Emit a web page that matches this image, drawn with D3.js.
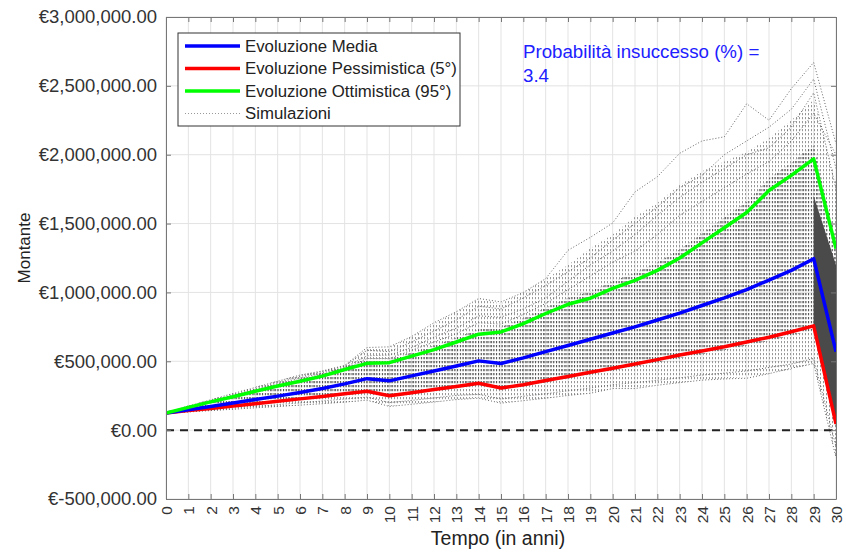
<!DOCTYPE html>
<html>
<head>
<meta charset="utf-8">
<script src="https://cdn.jsdelivr.net/npm/d3@7"></script>
<style>
  body { margin: 0; background: #fff; }
  text { font-family: "Liberation Sans", Arial, sans-serif; }
</style>
</head>
<body>
<div id="chart"></div>
<script>
// anni 0..30
let years = d3.range(0, 31);

// curve principali (euro)
let mediaVals = [125000, 148000, 172000, 197000, 222000, 247000, 274000, 303000, 336000, 374000, 358000,
  394000, 430000, 466000, 503000, 484000, 525000, 570000, 615000, 660000, 705000,
  750000, 800000, 850000, 905000, 960000, 1020000, 1090000, 1160000, 1245000, 570000];
let pessVals = [125000, 142000, 158000, 175000, 192000, 210000, 227000, 245000, 264000, 283000, 250000,
  272000, 295000, 317000, 340000, 306000, 330000, 360000, 390000, 420000, 450000,
  480000, 512000, 545000, 575000, 605000, 640000, 675000, 715000, 757000, 45000];
let ottVals = [125000, 165000, 205000, 242000, 282000, 320000, 355000, 392000, 440000, 485000, 490000,
  537000, 585000, 640000, 697000, 713000, 774000, 847000, 914000, 958000, 1030000,
  1088000, 1160000, 1250000, 1360000, 1470000, 1580000, 1740000, 1850000, 1970000, 1318000];

// fascia delle simulazioni (bordo inferiore / superiore della nuvola di linee)
let simBandLo = [125000, 130000, 140000, 150000, 160000, 170000, 180000, 190000, 200000, 215000, 175000,
  190000, 205000, 220000, 235000, 200000, 215000, 230000, 250000, 270000, 300000,
  310000, 330000, 345000, 365000, 375000, 385000, 410000, 440000, 480000, -200000];
let simBandHi = [125000, 180000, 225000, 270000, 315000, 360000, 400000, 430000, 470000, 590000, 600000,
  680000, 770000, 860000, 950000, 920000, 1000000, 1100000, 1200000, 1320000, 1420000,
  1550000, 1650000, 1780000, 1880000, 1950000, 2020000, 2120000, 2250000, 2400000, 1800000];
// zona scura tra anno 29 e 30
let darkYears = [29, 30];
let darkLo = [750000, 30000];
let darkHi = [1700000, 1200000];

// alcune simulazioni isolate (fuori dalla zona fitta)
let simPaths = [
  [125000, 175000, 220000, 265000, 310000, 355000, 400000, 430000, 470000, 600000, 605000, 680000, 780000, 860000, 956000, 931000, 1000000, 1100000, 1306000, 1400000, 1504000, 1730000, 1840000, 2010000, 2100000, 2130000, 2370000, 2250000, 2480000, 2670000, 2080000],
  [125000, 170000, 210000, 255000, 300000, 345000, 390000, 425000, 465000, 580000, 570000, 640000, 720000, 800000, 900000, 880000, 960000, 1050000, 1150000, 1250000, 1380000, 1500000, 1620000, 1760000, 1850000, 2000000, 2100000, 2200000, 2330000, 2550000, 1900000],
  [125000, 168000, 208000, 250000, 292000, 335000, 378000, 415000, 455000, 540000, 545000, 600000, 676000, 740000, 830000, 820000, 880000, 960000, 1080000, 1200000, 1300000, 1420000, 1560000, 1690000, 1800000, 1900000, 2000000, 2050000, 2200000, 2450000, 1750000],
  [125000, 165000, 205000, 245000, 285000, 325000, 365000, 405000, 445000, 520000, 520000, 580000, 640000, 700000, 780000, 770000, 840000, 920000, 1020000, 1120000, 1220000, 1300000, 1420000, 1560000, 1660000, 1760000, 1860000, 1950000, 2100000, 2300000, 2000000],
  [125000, 132000, 142000, 152000, 162000, 172000, 182000, 192000, 204000, 218000, 172000, 188000, 204000, 222000, 232000, 196000, 214000, 232000, 252000, 268000, 302000, 302000, 326000, 345000, 363000, 372000, 377000, 410000, 450000, 484000, -200000],
  [125000, 135000, 148000, 160000, 172000, 185000, 198000, 212000, 226000, 240000, 200000, 216000, 234000, 252000, 260000, 226000, 246000, 264000, 286000, 306000, 330000, 345000, 362000, 380000, 400000, 414000, 430000, 455000, 480000, 520000, -120000]
];

let yTicks = [-500000, 0, 500000, 1000000, 1500000, 2000000, 2500000, 3000000];
let legendLabels = ["Evoluzione Media", "Evoluzione Pessimistica (5°)", "Evoluzione Ottimistica (95°)", "Simulazioni"];
let legendColors = ["#0000ff", "#ff0000", "#00ff00", "#999"];
let probText = ["Probabilità insuccesso (%) =", "3.4"];

let margin = { top: 17, right: 10, bottom: 57, left: 166 };
let width = 846 - margin.left - margin.right;
let height = 556 - margin.top - margin.bottom;

let svg = d3.select("#chart")
  .append("svg")
    .attr("width", 846)
    .attr("height", 556)
  .append("g")
    .attr("transform", "translate(" + margin.left + "," + margin.top + ")");

let xScale = d3.scaleLinear().domain([0, 30]).range([0, width]);
let yScale = d3.scaleLinear().domain([-500000, 3000000]).range([height, 0]);

let defs = svg.append("defs");
defs.append("clipPath").attr("id", "clip")
  .append("rect").attr("width", width).attr("height", height);
// trama a trattini verticali per imitare le tante linee punteggiate
function makeHatch(id, color, w) {
  let p = defs.append("pattern")
    .attr("id", id)
    .attr("width", w).attr("height", 4)
    .attr("patternUnits", "userSpaceOnUse");
  p.append("rect").attr("width", 1).attr("height", 2.2).attr("fill", color);
}
makeHatch("hatchLight", "#8c8c8c", 3);
makeHatch("hatchDark", "#3c3c3c", 2.6);

// griglia
svg.append("g")
  .selectAll("line")
  .data(years)
  .enter().append("line")
    .attr("x1", d => xScale(d)).attr("x2", d => xScale(d))
    .attr("y1", 0).attr("y2", height)
    .attr("stroke", "#e3e3e3");
svg.append("g")
  .selectAll("line")
  .data(yTicks)
  .enter().append("line")
    .attr("y1", d => yScale(d)).attr("y2", d => yScale(d))
    .attr("x1", 0).attr("x2", width)
    .attr("stroke", "#e3e3e3");

let plot = svg.append("g").attr("clip-path", "url(#clip)");

let bandArea = d3.area()
  .x((d, i) => xScale(years[i]))
  .y0(d => yScale(d[0]))
  .y1(d => yScale(d[1]));

// nuvola esterna
plot.append("path")
  .attr("d", bandArea(simBandLo.map((v, i) => [v, simBandHi[i]])))
  .attr("fill", "url(#hatchLight)")
  .attr("opacity", 0.9);
// zona fitta (tra 5° e 95° percentile)
plot.append("path")
  .attr("d", bandArea(pessVals.map((v, i) => [v * 0.96, ottVals[i] * 1.05])))
  .attr("fill", "url(#hatchDark)")
  .attr("opacity", 0.8);

// cuneo scuro tra 29 e 30
plot.append("path")
  .attr("d", d3.area()
    .x((d, i) => xScale(darkYears[i]))
    .y0(d => yScale(d[0]))
    .y1(d => yScale(d[1]))(darkLo.map((v, i) => [v, darkHi[i]])))
  .attr("fill", "#4a4a4a");

let line = d3.line()
  .x((d, i) => xScale(years[i]))
  .y(d => yScale(d));

plot.selectAll(".sim")
  .data(simPaths)
  .enter().append("path")
    .attr("class", "sim")
    .attr("d", d => line(d))
    .attr("fill", "none")
    .attr("stroke", "#666")
    .attr("stroke-width", 1)
    .attr("stroke-dasharray", "1,2");

// linea dello zero
plot.append("line")
  .attr("x1", 0).attr("x2", width)
  .attr("y1", yScale(0)).attr("y2", yScale(0))
  .attr("stroke", "#222")
  .attr("stroke-width", 2)
  .attr("stroke-dasharray", "8,6");

// curve principali
[[pessVals, "#ff0000"], [mediaVals, "#0000ff"], [ottVals, "#00ff00"]].forEach(s => {
  plot.append("path")
    .attr("d", line(s[0]))
    .attr("fill", "none")
    .attr("stroke", s[1])
    .attr("stroke-width", 3.5)
    .attr("stroke-linejoin", "round");
});

// assi in stile MATLAB: box con tacche interne
let fmt = d3.format(",.2f");
let yAxis = d3.axisLeft(yScale)
  .tickValues(yTicks)
  .tickSizeInner(-5).tickSizeOuter(0)
  .tickPadding(9)
  .tickFormat(d => d < 0 ? "€-" + fmt(-d) : "€" + fmt(d));
let xAxis = d3.axisBottom(xScale)
  .tickValues(years)
  .tickSizeInner(-5).tickSizeOuter(0)
  .tickFormat(d3.format("d"));

let gy = svg.append("g").call(yAxis);
gy.selectAll("text").attr("font-size", 18.5).attr("fill", "#333");

let gx = svg.append("g")
  .attr("transform", "translate(0," + height + ")")
  .call(xAxis);
gx.selectAll("text")
  .attr("font-size", 15.5)
  .attr("fill", "#333")
  .attr("transform", "rotate(-90)")
  .attr("text-anchor", "end")
  .attr("x", -7)
  .attr("y", 0)
  .attr("dy", "0.35em");

svg.append("g")
  .attr("transform", "translate(" + width + ",0)")
  .call(d3.axisRight(yScale).tickValues(yTicks).tickSizeInner(-5).tickSizeOuter(0).tickFormat(""));
svg.append("g")
  .call(d3.axisTop(xScale).tickValues(years).tickSizeInner(-5).tickSizeOuter(0).tickFormat(""));
svg.selectAll(".domain, .tick line").attr("stroke", "#777");

// etichette assi
svg.append("text")
  .attr("x", width / 2 - 3)
  .attr("y", height + 46)
  .attr("text-anchor", "middle")
  .attr("font-size", 19.5)
  .attr("fill", "#222")
  .text("Tempo (in anni)");
svg.append("text")
  .attr("transform", "translate(-136,231)rotate(-90)")
  .attr("text-anchor", "middle")
  .attr("font-size", 17)
  .attr("fill", "#222")
  .text("Montante");

// testo probabilità
svg.append("g").selectAll("text")
  .data(probText)
  .enter().append("text")
    .attr("x", 357)
    .attr("y", (d, i) => 41 + i * 24)
    .attr("font-size", 18.7)
    .attr("fill", "#2020ff")
    .text(d => d);

// legenda
let legend = svg.append("g").attr("transform", "translate(12,16)");
legend.append("rect")
  .attr("width", 282).attr("height", 93)
  .attr("fill", "#fff")
  .attr("stroke", "#333");
legendLabels.forEach((lab, i) => {
  let yy = 13 + i * 22.5;
  legend.append("line")
    .attr("x1", 7).attr("x2", 62)
    .attr("y1", yy).attr("y2", yy)
    .attr("stroke", legendColors[i])
    .attr("stroke-width", i < 3 ? 3.5 : 1)
    .attr("stroke-dasharray", i < 3 ? null : "1,2");
  legend.append("text")
    .attr("x", 67).attr("y", yy)
    .attr("dy", "0.35em")
    .attr("font-size", 16.8)
    .attr("fill", "#222")
    .text(lab);
});
</script>
</body>
</html>
